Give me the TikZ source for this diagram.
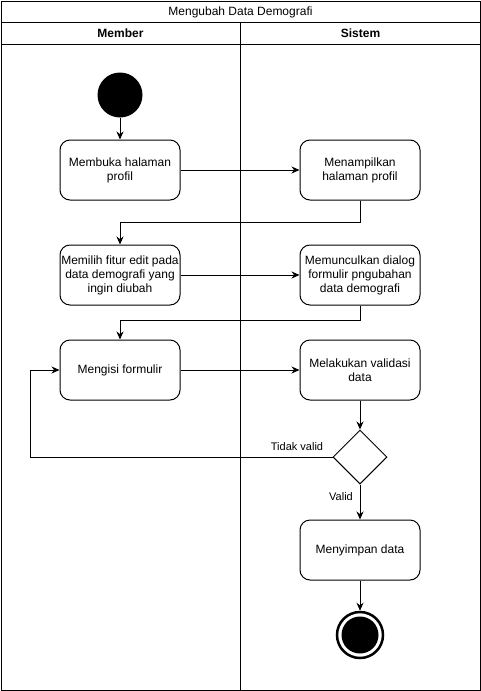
\documentclass[tikz,border=0pt]{standalone}
\usepackage{fontspec}
\setmainfont{Liberation Sans}
\usetikzlibrary{shapes.geometric,arrows.meta}
\begin{document}
\begin{tikzpicture}[x=1pt,y=-1pt,
  font=\fontsize{12}{14}\selectfont,
  every path/.style={line width=1pt},
  action/.style={draw,rounded corners=10pt,minimum width=120pt,minimum height=60pt,
    align=center,inner sep=1pt},
  decision/.style={draw,diamond,minimum width=54pt,minimum height=54pt,inner sep=0pt},
  flow/.style={-{Stealth[length=8pt,width=7pt]}},
  lbl/.style={font=\fontsize{11}{13}\selectfont,fill=white,inner sep=1pt}]
\useasboundingbox (0,0) rectangle (481,691);
% lanes
\draw (1,1) rectangle (480,690);
\draw (1,22) -- (480,22);
\draw (1,44) -- (480,44);
\draw (240,22) -- (240,690);
\node at (240.5,12) {Mengubah Data Demografi};
\node[font=\fontsize{12}{14}\selectfont\bfseries] at (120.5,33) {Member};
\node[font=\fontsize{12}{14}\selectfont\bfseries] at (360.5,33) {Sistem};
% nodes
\node[circle,fill=black,minimum size=45pt,inner sep=0pt] (start) at (120,95) {};
\node[action] (a1) at (120,170) {Membuka halaman\\profil};
\node[action] (a2) at (360,170) {Menampilkan\\halaman profil};
\node[action] (a3) at (120,275) {Memilih fitur edit pada\\data demografi yang\\ingin diubah};
\node[action] (a4) at (360,275) {Memunculkan dialog\\formulir pngubahan\\data demografi};
\node[action] (a5) at (120,370) {Mengisi formulir};
\node[action] (a6) at (360,370) {Melakukan validasi\\data};
\node[decision] (d) at (360,457) {};
\node[action] (a7) at (360,550) {Menyimpan data};
\node[circle,draw,line width=2.5pt,minimum size=46pt,inner sep=0pt] (end) at (360,635) {};
\node[circle,fill=black,minimum size=37pt,inner sep=0pt] at (end) {};
% connectors
\draw[flow] (start) -- (a1);
\draw[flow] (a1) -- (a2);
\draw[flow] (a2.south) |- (120,222) -- (a3.north);
\draw[flow] (a3) -- (a4);
\draw[flow] (a4.south) |- (120,320) -- (a5.north);
\draw[flow] (a5) -- (a6);
\draw[flow] (a6) -- (d);
\draw[flow] (d.west) -- (30,457) |- (a5.west);
\draw[flow] (d.south) -- (a7);
\draw[flow] (a7) -- (end);
\node[lbl] at (297,447) {Tidak valid};
\node[lbl] at (341,497) {Valid};
\end{tikzpicture}
\end{document}
